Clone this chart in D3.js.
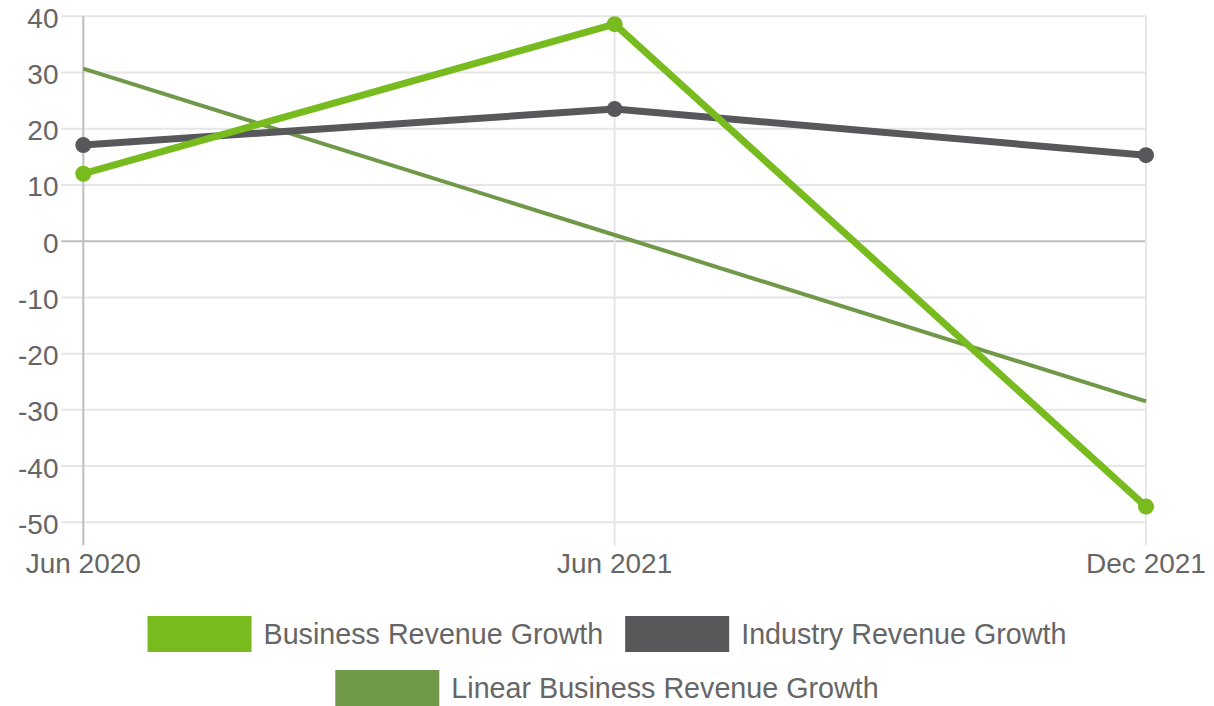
<!DOCTYPE html>
<html>
<head>
<meta charset="utf-8">
<script src="https://cdn.jsdelivr.net/npm/d3@7"></script>
<style>
  html, body { margin: 0; padding: 0; background: #fff; }
  svg { display: block; font-family: "Liberation Sans", Arial, Helvetica, sans-serif; }
</style>
</head>
<body>
<svg id="chart" width="1214" height="706"></svg>
<script>
// ---- data ----
const categories = ["Jun 2020", "Jun 2021", "Dec 2021"];
const businessGrowth = [12.0, 38.6, -47.2];
const industryGrowth = [17.1, 23.5, 15.3];
const linearBusinessGrowth = [30.7, 1.1, -28.5];
const yTicks = [40, 30, 20, 10, 0, -10, -20, -30, -40, -50];
const seriesNames = ["Business Revenue Growth", "Industry Revenue Growth", "Linear Business Revenue Growth"];

(function () {
// ---- layout ----
const W = 1214, H = 706;
const pLeft = 83.3, pRight = 1146, pTop = 16.3, pBottom = 522.3;
const svg = d3.select("#chart");
const textColor = "#666666";
const fontSize = 28;
const legendFontSize = 28.7;

const x = d3.scalePoint().domain(categories).range([pLeft, pRight]);
const y = d3.scaleLinear().domain([-50, 40]).range([pBottom, pTop]);

const series = [
  { name: seriesNames[0], values: businessGrowth, color: "#78bb1f", width: 7, points: true },
  { name: seriesNames[1], values: industryGrowth, color: "#58585a", width: 7, points: true },
  { name: seriesNames[2], values: linearBusinessGrowth, color: "#6f9949", width: 4, points: false }
];

// ---- grid ----
const grid = svg.append("g");
grid.selectAll(null).data(yTicks).enter().append("line")
  .attr("x1", pLeft - 22).attr("x2", pRight)
  .attr("y1", d => y(d)).attr("y2", d => y(d))
  .attr("stroke", d => d === 0 ? "#bdbdbd" : "#e6e6e6")
  .attr("stroke-width", 2);
grid.selectAll(null).data(categories).enter().append("line")
  .attr("x1", d => x(d)).attr("x2", d => x(d))
  .attr("y1", pTop).attr("y2", pBottom + 23)
  .attr("stroke", (d, i) => i === 0 ? "#bdbdbd" : "#e6e6e6")
  .attr("stroke-width", 2);

// y tick labels
svg.append("g").selectAll("text").data(yTicks).enter().append("text")
  .attr("x", 58.5).attr("y", d => y(d) + 11.5)
  .attr("text-anchor", "end")
  .attr("fill", textColor).attr("font-size", fontSize)
  .text(d => d);

// x tick labels
svg.append("g").selectAll("text").data(categories).enter().append("text")
  .attr("x", d => x(d))
  .attr("y", 573)
  .attr("text-anchor", "middle")
  .attr("fill", textColor).attr("font-size", fontSize)
  .text(d => d);

// ---- lines (first series on top) ----
const line = d3.line().x((d, i) => x(categories[i])).y(d => y(d));
const plot = svg.append("g");
series.slice().reverse().forEach(s => {
  plot.append("path")
    .datum(s.values)
    .attr("d", line)
    .attr("fill", "none")
    .attr("stroke", s.color)
    .attr("stroke-width", s.width)
    .attr("stroke-linejoin", "round")
    .attr("stroke-linecap", "butt");
  if (s.points) {
    plot.selectAll(null).data(s.values).enter().append("circle")
      .attr("cx", (d, i) => x(categories[i]))
      .attr("cy", d => y(d))
      .attr("r", 8)
      .attr("fill", s.color);
  }
});

// ---- legend ----
const boxW = 104, boxH = 36, boxGap = 12, itemGap = 22, cx = 607;
const rows = [[0, 1], [2]];
const rowBoxTop = [616, 670];
const rowBaseline = [644, 698];
const legend = svg.append("g");
rows.forEach((row, ri) => {
  const items = row.map(idx => {
    const t = legend.append("text")
      .attr("font-size", legendFontSize).attr("fill", textColor)
      .text(series[idx].name);
    return { idx, t, w: t.node().getComputedTextLength() };
  });
  const total = d3.sum(items, d => boxW + boxGap + d.w) + itemGap * (items.length - 1);
  let cur = cx - total / 2;
  items.forEach(it => {
    legend.append("rect")
      .attr("x", cur).attr("y", rowBoxTop[ri])
      .attr("width", boxW).attr("height", boxH)
      .attr("fill", series[it.idx].color);
    it.t.attr("x", cur + boxW + boxGap).attr("y", rowBaseline[ri]);
    cur += boxW + boxGap + it.w + itemGap;
  });
});
})();
</script>
</body>
</html>
